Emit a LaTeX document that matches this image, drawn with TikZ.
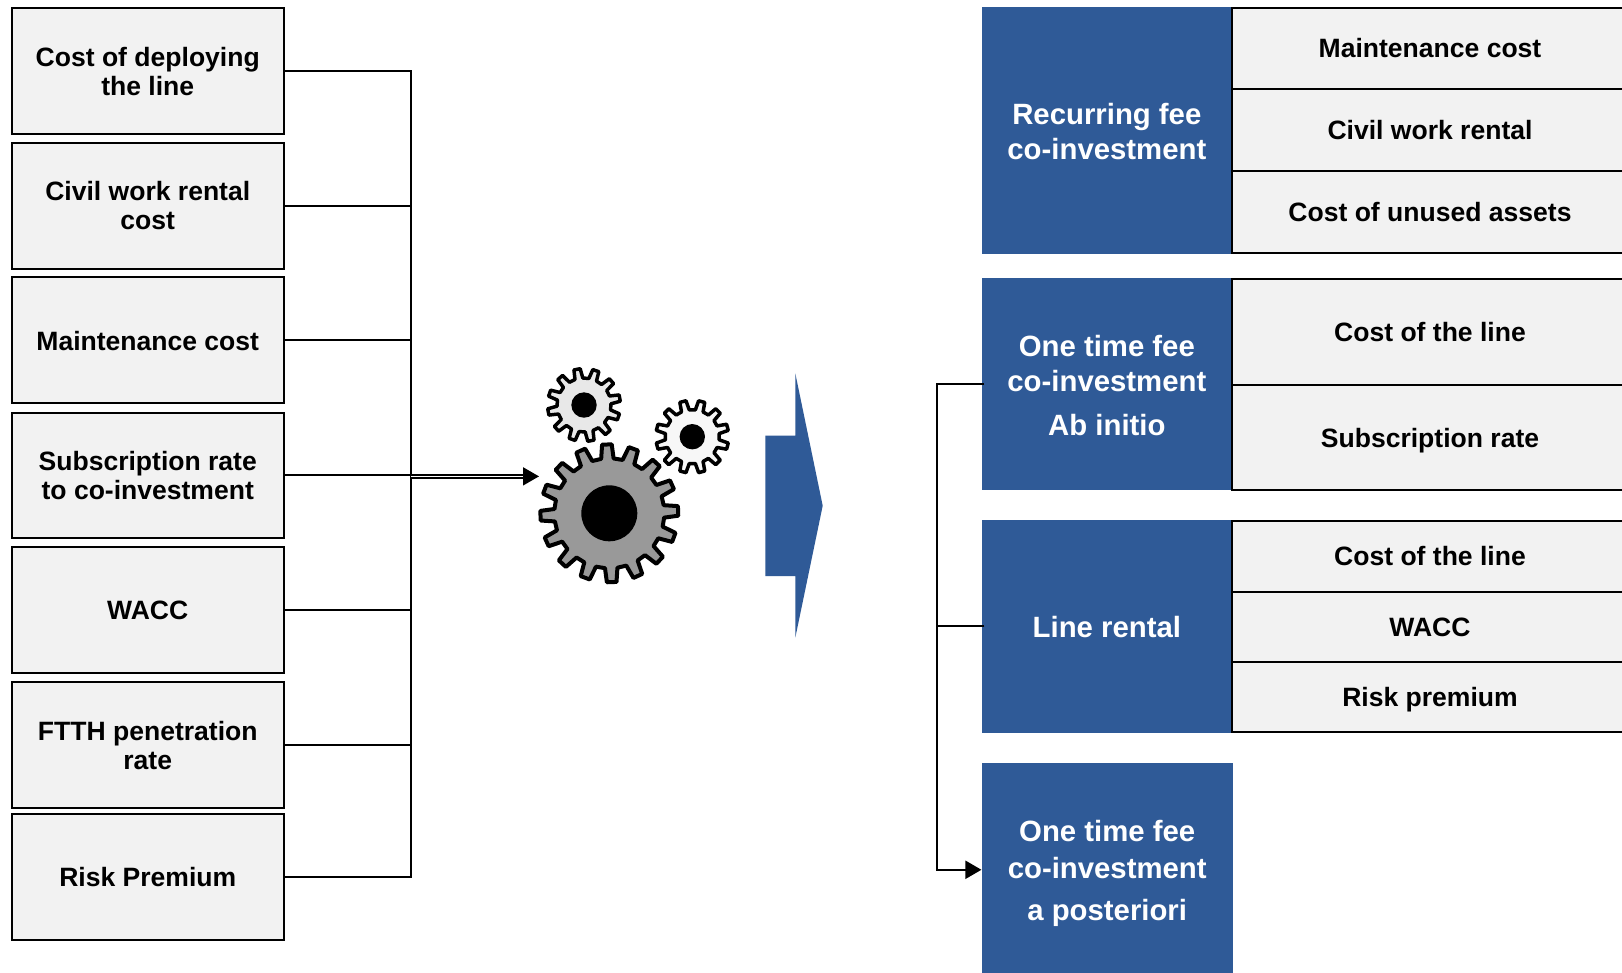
\documentclass[tikz,border=0pt]{standalone}
\usepackage{fontspec}
\setmainfont{Liberation Sans}
\usetikzlibrary{arrows.meta,calc}
\definecolor{bluebox}{HTML}{2F5A97}
\definecolor{greybox}{HTML}{F2F2F2}
\def\gearlw{3pt}
\tikzset{
  cell/.style={draw=black,line width=1.5pt,fill=greybox,inner sep=0pt,align=center,font=\fontsize{19.9}{21.75}\selectfont\bfseries},
  onecell/.style={cell,text height=14.3pt,text depth=0pt},
  bluecell/.style={fill=bluebox,inner sep=0pt},
  bluetext/.style={text=white,inner sep=0pt,align=center,font=\fontsize{22}{26.25}\selectfont\bfseries},
  wire/.style={draw=black,line width=1.5pt},
  gearline/.style={draw=black,line join=round,line width=\gearlw},
  tip/.style={-{Triangle[length=12pt,width=13.5pt]}}
}
\newcommand{\bx}[7]{\node[#6,minimum width={(#4-#2)*0.75pt},minimum height={(#5-#3)*0.75pt}] (#1) at ({(#2+#4)/2},{(#3+#5)/2}) {#7};}
% cx cy teeth outer root roothalf tiphalf phase fill
\newcommand{\gearshape}[9]{%
  \pgfmathsetmacro{\stepa}{360/#3}%
  \pgfmathsetmacro{\lastt}{#3-1}%
  \draw[gearline,fill=#9] ({#1+#5*cos(#8-#6)},{#2-#5*sin(#8-#6)})
   \foreach \t in {0,...,\lastt}{
     -- ({#1+#5*cos(#8+\t*\stepa-#6)},{#2-#5*sin(#8+\t*\stepa-#6)})
     -- ({#1+#4*cos(#8+\t*\stepa-#7)},{#2-#4*sin(#8+\t*\stepa-#7)})
     -- ({#1+#4*cos(#8+\t*\stepa+#7)},{#2-#4*sin(#8+\t*\stepa+#7)})
     -- ({#1+#5*cos(#8+\t*\stepa+#6)},{#2-#5*sin(#8+\t*\stepa+#6)})
   } -- cycle;%
}
\begin{document}
\begin{tikzpicture}[x=0.75pt,y=-0.75pt]
\clip (0,0) rectangle (1622,972);
\fill[white] (0,0) rectangle (1622,972);
% gears
\def\gearlw{3pt}
\gearshape{609.3}{513.3}{16}{69}{55}{6.5}{4}{92}{black!40}
\fill[black] (609.3,513.3) circle [radius=28];
\def\gearlw{2.6pt}
\gearshape{584}{405}{12}{36.5}{27}{8.5}{5}{101}{black!9}
\fill[black] (584,405) circle [radius=12.7];
\gearshape{692.3}{436.7}{12}{36.5}{27}{8.5}{5}{75}{black!3}
\fill[black] (692.3,436.7) circle [radius=12.7];
% big arrow
\fill[bluebox] (765.3,435.7) -- (795.3,435.7) -- (795.3,373.3) -- (822.7,505.7) -- (795.3,637.7) -- (795.3,576) -- (765.3,576) -- cycle;
\begin{scope}[yshift=0.25pt]
% left boxes
\bx{a1}{11.5}{8.2}{284}{134.5}{cell}{Cost of deploying\\the line}
\bx{a2}{11.5}{143.2}{284}{269.4}{cell}{Civil work rental\\cost}
\bx{a3}{11.5}{277.8}{284}{403.8}{onecell}{Maintenance cost}
\bx{a4}{11.5}{412.9}{284}{538.4}{cell}{Subscription rate\\to co-investment}
\bx{a5}{11.5}{547.4}{284}{673.4}{onecell}{WACC}
\bx{a6}{11.5}{682.4}{284}{808.4}{cell}{FTTH penetration\\rate}
\bx{a7}{11.5}{814.2}{284}{940.2}{onecell}{Risk Premium}
\coordinate (bus) at (411,476);
\coordinate (gearin) at (539,476.7);
\foreach \n in {a1,a2,a3,a4,a5,a6,a7}{\draw[wire] (\n.east) -- (\n.east -| bus);}
\draw[wire,line cap=rect] (a1.east -| bus) -- (a7.east -| bus);
\draw[line width=1.3pt,double=white,double distance=0.9pt,tip] (bus |- gearin) -- (gearin);
% right blue boxes
\bx{b1}{981.7}{7.2}{1232}{254}{bluecell}{}
\node[bluetext] (l1) at ($(b1.center)+(0,1)$) {Recurring fee\\co-investment};
\bx{b2}{981.7}{278.2}{1232}{490.5}{bluecell}{}
\node[bluetext] (l2) at ($(b2.center)+(0,1.5)$) {One time fee\\co-investment\\[6.3pt]Ab initio};
\bx{b3}{981.7}{520.2}{1232}{733}{bluecell}{}
\node[bluetext,text height=15.8pt,text depth=0pt] (l3) at ($(b3.center)+(0,1)$) {Line rental};
\bx{b4}{981.7}{763.2}{1232.7}{977}{bluecell}{}
\node[bluetext] (l4) at ($(b4.center)+(0,3.5)$) {One time fee\\[1.5pt]co-investment\\[5pt]a posteriori};
% right cells
\bx{c1}{1232}{8.2}{1628}{89.3}{onecell}{Maintenance cost}
\bx{c2}{1232}{89.3}{1628}{171.3}{onecell}{Civil work rental}
\bx{c3}{1232}{171.3}{1628}{253.3}{onecell}{Cost of unused assets}
\bx{c4}{1232}{279.2}{1628}{385.3}{onecell}{Cost of the line}
\bx{c5}{1232}{385.3}{1628}{490.3}{onecell}{Subscription rate}
\bx{c6}{1232}{521.2}{1628}{592.3}{onecell}{Cost of the line}
\bx{c7}{1232}{592.3}{1628}{662.3}{onecell}{WACC}
\bx{c8}{1232}{662.3}{1628}{732.3}{onecell}{Risk premium}
% right connectors
\coordinate (trunk) at (937,600);
\draw[wire,tip] ($(b2.west)+(3,0)$) -- (b2.west -| trunk) -- (b4.west -| trunk) -- (b4.west);
\draw[wire] ($(b3.west)+(3,0)$) -- (b3.west -| trunk);
\end{scope}
\end{tikzpicture}
\end{document}
